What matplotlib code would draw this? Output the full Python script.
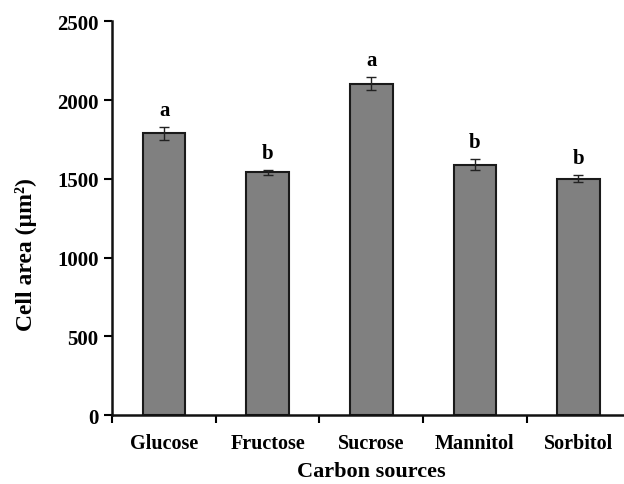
import matplotlib.pyplot as plt
import numpy as np

plt.rcParams['font.family'] = ['Liberation Serif', 'DejaVu Serif']
plt.rcParams['font.weight'] = 'bold'

sources = ['Glucose', 'Fructose', 'Sucrose', 'Mannitol', 'Sorbitol']
cell_area = [1789, 1542, 2105, 1591, 1502]
sem = [40, 15, 40, 33, 20]
letters = ['a', 'b', 'a', 'b', 'b']

fig = plt.figure(figsize=(6.24, 4.85), dpi=100)
ax = fig.add_axes([0.180, 0.142, 0.830, 0.812])

x = np.arange(len(sources))
ax.bar(x, cell_area, width=0.41, color='#808080', edgecolor='#1a1a1a',
       linewidth=1.5, yerr=sem, capsize=3.5,
       error_kw=dict(ecolor='#222222', elinewidth=1.0, capthick=1.0))

for xi, v, e, lab in zip(x, cell_area, sem, letters):
    ax.annotate(lab, (xi, v + e), xytext=(0, 5), textcoords='offset points',
                ha='center', va='bottom', fontsize=15, fontweight='bold')

ax.set_xlim(-0.5, len(sources) - 0.5)
ax.set_ylim(0, 2500)
ax.set_yticks(np.arange(0, 2501, 500))

# category labels centred, ticks at the boundaries between them
ax.set_xticks(x)
ax.set_xticklabels(sources, fontsize=14.5, fontweight='bold')
ax.tick_params(axis='x', which='major', length=0, pad=13)
ax.set_xticks(np.arange(-0.5, len(sources) + 0.5, 1.0), minor=True)
ax.tick_params(axis='x', which='minor', length=6, width=1.5, direction='out')
ax.tick_params(axis='y', length=6, width=1.5, direction='out', labelsize=15, pad=4)
for t in ax.get_yticklabels():
    t.set_fontweight('bold')

for side in ['top', 'right']:
    ax.spines[side].set_visible(False)
for side in ['left', 'bottom']:
    ax.spines[side].set_linewidth(1.8)
    ax.spines[side].set_color('#111111')

ax.set_xlabel('Carbon sources', fontsize=16, fontweight='bold', labelpad=5.5)
ax.set_ylabel('Cell area (µm²)', fontsize=17, fontweight='bold')
ax.yaxis.set_label_coords(-0.145, 0.41)

fig.savefig('out.png', dpi=100)
